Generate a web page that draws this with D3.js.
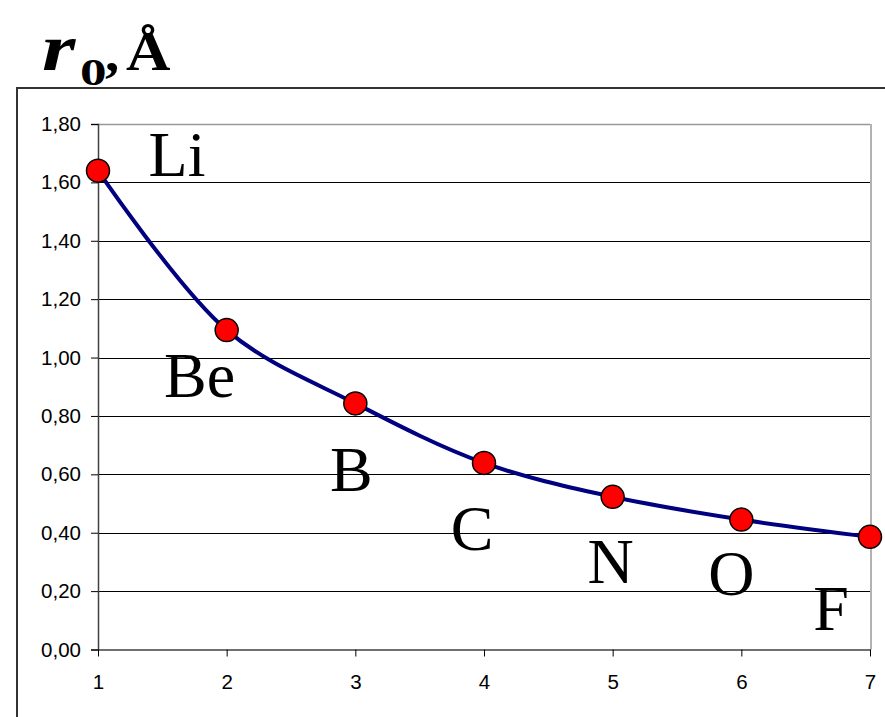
<!DOCTYPE html>
<html>
<head>
<meta charset="utf-8">
<script src="https://cdn.jsdelivr.net/npm/d3@7"></script>
<style>
  html, body { margin: 0; padding: 0; background: #fff; }
  svg { display: block; }
</style>
</head>
<body>
<svg id="chart" width="885" height="717"></svg>
<script>
// Orbital radius r0 (Å) of second-period elements, by position in the period
const positions = [1, 2, 3, 4, 5, 6, 7];
const elements = ["Li", "Be", "B", "C", "N", "O", "F"];
const radii = [1.64, 1.094, 0.843, 0.639, 0.523, 0.445, 0.386];
const yTicks = [0, 0.2, 0.4, 0.6, 0.8, 1.0, 1.2, 1.4, 1.6, 1.8];
const xTicks = [1, 2, 3, 4, 5, 6, 7];

// Element symbol placement relative to its point: [dx, baseline dy]
const labelOffsets = [[79, 5], [-27, 67], [-4, 88], [-12, 87], [-2, 86], [-10, 75], [-39, 93]];

const svg = d3.select("#chart");
const plot = { left: 98, right: 870, top: 124, bottom: 649.5 };

const x = d3.scaleLinear().domain([1, 7]).range([plot.left, plot.right]);
const y = d3.scaleLinear().domain([0, 1.8]).range([plot.bottom, plot.top]);

// Outer frame (left and top edges)
svg.append("path")
  .attr("d", `M17,717 L17,88 L885,88`)
  .attr("fill", "none")
  .attr("stroke", "#333")
  .attr("stroke-width", 2);

// Title r0, Å — each piece set on its own so it can be widened separately
const serif = "'Liberation Serif', 'Times New Roman', serif";
const titleParts = [
  { t: "r", x: 42, y: 70, size: 66, sx: 1.3, italic: true },
  { t: "0", x: 80, y: 85, size: 38, sx: 1.4, italic: false },
  { t: ",", x: 105, y: 71, size: 52, sx: 1.1, italic: false },
  { t: "Å", x: 126, y: 70, size: 55, sx: 1.12, italic: false }
];
svg.append("g")
  .selectAll("text")
  .data(titleParts)
  .join("text")
  .attr("transform", d => `translate(${d.x},${d.y}) scale(${d.sx},1)`)
  .attr("font-family", serif)
  .attr("font-weight", "bold")
  .attr("font-style", d => d.italic ? "italic" : "normal")
  .attr("font-size", d => d.size)
  .attr("fill", "#000")
  .text(d => d.t);

// Horizontal gridlines
svg.append("g")
  .selectAll("line")
  .data(yTicks.filter(d => d > 0))
  .join("line")
  .attr("x1", plot.left)
  .attr("x2", plot.right)
  .attr("y1", d => Math.round(y(d)) + 0.5)
  .attr("y2", d => Math.round(y(d)) + 0.5)
  .attr("stroke", d => d === 1.8 ? "#999" : "#000")
  .attr("stroke-width", d => d === 1.8 ? 1.5 : 1);

// Right border of plot area
svg.append("line")
  .attr("x1", plot.right + 1).attr("x2", plot.right + 1)
  .attr("y1", plot.top).attr("y2", plot.bottom)
  .attr("stroke", "#999")
  .attr("stroke-width", 1.5);

// Y axis
const yAxis = d3.axisLeft(y)
  .tickValues(yTicks)
  .tickSize(7)
  .tickPadding(10)
  .tickFormat(d => d3.format(".2f")(d).replace(".", ","));
const gy = svg.append("g")
  .attr("transform", `translate(${plot.left},0)`)
  .call(yAxis);
gy.select(".domain").attr("stroke", "#404040").attr("stroke-width", 1.5);
gy.selectAll(".tick line").attr("stroke", "#000");
gy.selectAll(".tick text")
  .attr("font-family", "'Liberation Sans', Arial, sans-serif")
  .attr("font-size", 20.5)
  .attr("fill", "#000");

// X axis
const xAxis = d3.axisBottom(x)
  .tickValues(xTicks)
  .tickSize(7)
  .tickSizeOuter(0)
  .tickPadding(18)
  .tickFormat(d3.format("d"));
const gx = svg.append("g")
  .attr("transform", `translate(0,${plot.bottom})`)
  .call(xAxis);
gx.select(".domain").attr("stroke", "#404040").attr("stroke-width", 1.5);
gx.selectAll(".tick line").attr("stroke", "#000");
gx.selectAll(".tick text")
  .attr("font-family", "'Liberation Sans', Arial, sans-serif")
  .attr("font-size", 20.5)
  .attr("fill", "#000");

const pts = positions.map((p, i) => ({ p, r: radii[i], el: elements[i], off: labelOffsets[i] }));

// Smoothed radius curve
const line = d3.line()
  .x(d => x(d.p))
  .y(d => y(d.r))
  .curve(d3.curveCatmullRom.alpha(0.5));
svg.append("path")
  .datum(pts)
  .attr("d", line)
  .attr("fill", "none")
  .attr("stroke", "#000080")
  .attr("stroke-width", 4)
  .attr("stroke-linejoin", "round");

// Point markers
svg.append("g")
  .selectAll("circle")
  .data(pts)
  .join("circle")
  .attr("cx", d => x(d.p))
  .attr("cy", d => y(d.r))
  .attr("r", 11.5)
  .attr("fill", "#ff0000")
  .attr("stroke", "#000")
  .attr("stroke-width", 1.5);

// Element symbols
svg.append("g")
  .selectAll("text")
  .data(pts)
  .join("text")
  .attr("x", d => x(d.p) + d.off[0])
  .attr("y", d => y(d.r) + d.off[1])
  .attr("text-anchor", "middle")
  .attr("font-family", serif)
  .attr("font-size", 64)
  .attr("fill", "#000")
  .text(d => d.el);
</script>
</body>
</html>
